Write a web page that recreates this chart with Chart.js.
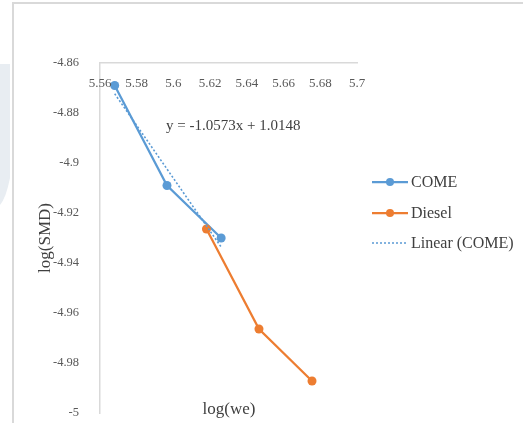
<!DOCTYPE html>
<html>
<head>
<meta charset="utf-8">
<script src="https://cdn.jsdelivr.net/npm/chart.js@4.4.1/dist/chart.umd.min.js"></script>
<style>
  html, body { margin: 0; padding: 0; background: #ffffff; }
  #wrap { position: relative; width: 523px; height: 423px; }
  canvas { display: block; }
</style>
</head>
<body>
<div id="wrap"><canvas id="c" width="523" height="423"></canvas></div>
<script>
// ---- data ----
const comeX = [5.568, 5.5965, 5.626];
const comeY = [-4.869, -4.909, -4.930];
const dieselX = [5.618, 5.6466, 5.6755];
const dieselY = [-4.9264, -4.9664, -4.9872];
const trendX = [5.568, 5.626];
const trendY = [-4.8723, -4.9336];
const xTickValues = [5.56, 5.58, 5.6, 5.62, 5.64, 5.66, 5.68, 5.7];
const xTickLabels = ['5.56', '5.58', '5.6', '5.62', '5.64', '5.66', '5.68', '5.7'];
const yTickValues = [-4.86, -4.88, -4.9, -4.92, -4.94, -4.96, -4.98, -5];
const yTickLabels = ['-4.86', '-4.88', '-4.9', '-4.92', '-4.94', '-4.96', '-4.98', '-5'];
const seriesNames = ['COME', 'Diesel', 'Linear (COME)'];
const equationText = 'y = -1.0573x + 1.0148';
const xTitle = 'log(we)';
const yTitle = 'log(SMD)';

const BLUE = '#5b9bd5';
const ORANGE = '#ed7d31';
const SERIF = '"Liberation Serif", "Times New Roman", serif';

const toPts = (xs, ys) => xs.map((x, i) => ({ x: x, y: ys[i] }));

const decorPlugin = {
  id: 'decor',
  beforeDraw(chart) {
    const ctx = chart.ctx;
    ctx.save();
    ctx.fillStyle = '#ffffff';
    ctx.fillRect(0, 0, chart.width, chart.height);
    // faint left strip
    ctx.fillStyle = '#e8edf2';
    ctx.beginPath();
    ctx.moveTo(0, 64);
    ctx.lineTo(10, 64);
    ctx.lineTo(10, 178);
    ctx.quadraticCurveTo(6, 198, 0, 205);
    ctx.closePath();
    ctx.fill();
    // outer frame
    ctx.strokeStyle = '#d9d9d9';
    ctx.lineWidth = 2;
    ctx.beginPath();
    ctx.moveTo(13, chart.height);
    ctx.lineTo(13, 3);
    ctx.lineTo(chart.width, 3);
    ctx.stroke();
    ctx.restore();
  },
  afterDraw(chart) {
    const ctx = chart.ctx;
    const xs = chart.scales.x;
    ctx.save();
    // x tick labels (below the top axis line)
    ctx.font = '13px ' + SERIF;
    ctx.fillStyle = '#595959';
    ctx.textAlign = 'center';
    ctx.textBaseline = 'middle';
    xTickValues.forEach((v, i) => {
      ctx.fillText(xTickLabels[i], xs.getPixelForValue(v), chart.chartArea.top + 21);
    });
    // trendline equation
    ctx.font = '15px ' + SERIF;
    ctx.fillStyle = '#404040';
    ctx.textAlign = 'left';
    ctx.fillText(equationText, 166, 126);
    // x axis title at bottom
    ctx.font = '17px ' + SERIF;
    ctx.textAlign = 'center';
    ctx.fillText(xTitle, 229, 410);
    // legend
    const items = [
      { color: BLUE, dot: true, dash: [] },
      { color: ORANGE, dot: true, dash: [] },
      { color: BLUE, dot: false, dash: [2, 2] }
    ];
    const ly = [182, 213, 243];
    items.forEach((it, i) => {
      ctx.strokeStyle = it.color;
      ctx.lineWidth = it.dot ? 2.25 : 1.5;
      ctx.setLineDash(it.dash);
      ctx.beginPath();
      ctx.moveTo(372, ly[i]);
      ctx.lineTo(408, ly[i]);
      ctx.stroke();
      ctx.setLineDash([]);
      if (it.dot) {
        ctx.fillStyle = it.color;
        ctx.beginPath();
        ctx.arc(390, ly[i], 4, 0, Math.PI * 2);
        ctx.fill();
      }
      ctx.fillStyle = '#404040';
      ctx.font = '16px ' + SERIF;
      ctx.textAlign = 'left';
      ctx.fillText(seriesNames[i], 411, ly[i] + 1);
    });
    ctx.restore();
  }
};

new Chart(document.getElementById('c'), {
  type: 'scatter',
  data: {
    datasets: [
      {
        label: seriesNames[2], data: toPts(trendX, trendY), showLine: true,
        borderColor: BLUE, borderWidth: 1.6, borderDash: [2, 2], pointRadius: 0, order: 0
      },
      {
        label: seriesNames[1], data: toPts(dieselX, dieselY), showLine: true,
        borderColor: ORANGE, backgroundColor: ORANGE, borderWidth: 2.25,
        pointRadius: 4.5, pointBorderWidth: 0, order: 1
      },
      {
        label: seriesNames[0], data: toPts(comeX, comeY), showLine: true,
        borderColor: BLUE, backgroundColor: BLUE, borderWidth: 2.25,
        pointRadius: 4.5, pointBorderWidth: 0, order: 2
      }
    ]
  },
  options: {
    responsive: false,
    animation: false,
    clip: false,
    layout: { padding: { left: 0, right: 166, top: 63, bottom: 10 } },
    plugins: { legend: { display: false }, tooltip: { enabled: false } },
    scales: {
      x: {
        type: 'linear', position: 'top', min: 5.56, max: 5.7,
        grid: { display: false },
        border: { display: true, color: '#d9d9d9', width: 1.5 },
        ticks: { display: false },
        afterFit: (s) => { s.height = 0; s.paddingLeft = 0; s.paddingRight = 0; }
      },
      y: {
        type: 'linear', position: 'left', min: -5, max: -4.86,
        grid: { display: false },
        border: { display: true, color: '#d9d9d9', width: 1.5 },
        afterBuildTicks: (s) => { s.ticks = yTickValues.map(v => ({ value: v })); },
        afterFit: (s) => { s.width = 100; s.paddingTop = 0; s.paddingBottom = 0; },
        ticks: {
          padding: 13,
          color: '#595959',
          font: { family: SERIF, size: 12.5 },
          callback: (v) => { const i = yTickValues.findIndex(t => Math.abs(t - v) < 1e-9); return i >= 0 ? yTickLabels[i] : ''; }
        },
        title: {
          display: true, text: yTitle, color: '#404040',
          font: { family: SERIF, size: 17 },
          padding: { top: 35, bottom: 0 }
        }
      }
    }
  },
  plugins: [decorPlugin]
});
</script>
</body>
</html>
